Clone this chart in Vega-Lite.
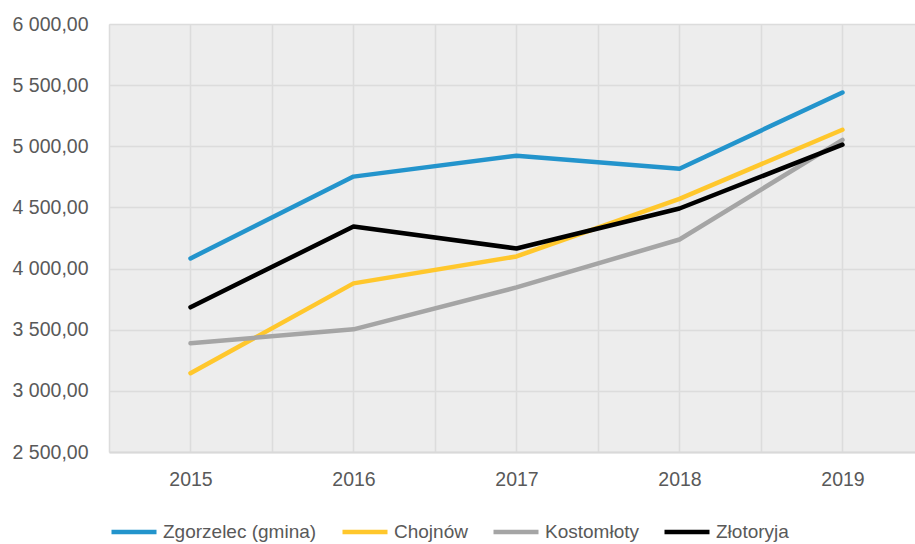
{
  "$schema": "https://vega.github.io/schema/vega-lite/v6.json",
  "width": 806,
  "height": 428,
  "autosize": {"type": "none"},
  "padding": {"left": 109, "top": 24, "right": 0, "bottom": 92},
  "background": "white",
  "config": {
    "font": "Liberation Sans",
    "view": {"fill": "#ededed", "stroke": null},
    "axis": {"labelFont": "Liberation Sans", "labelColor": "#595959", "labelFontSize": 19.5, "gridColor": "#dcdcdc", "gridWidth": 1.5, "ticks": false, "title": null}
  },
  "data": {
    "values": [
      {"rok": 2015, "gmina": "Zgorzelec (gmina)", "wartosc": 4083},
      {"rok": 2016, "gmina": "Zgorzelec (gmina)", "wartosc": 4752},
      {"rok": 2017, "gmina": "Zgorzelec (gmina)", "wartosc": 4923},
      {"rok": 2018, "gmina": "Zgorzelec (gmina)", "wartosc": 4817},
      {"rok": 2019, "gmina": "Zgorzelec (gmina)", "wartosc": 5440},
      {"rok": 2015, "gmina": "Chojnów", "wartosc": 3144},
      {"rok": 2016, "gmina": "Chojnów", "wartosc": 3879},
      {"rok": 2017, "gmina": "Chojnów", "wartosc": 4099},
      {"rok": 2018, "gmina": "Chojnów", "wartosc": 4570},
      {"rok": 2019, "gmina": "Chojnów", "wartosc": 5135},
      {"rok": 2015, "gmina": "Kostomłoty", "wartosc": 3389},
      {"rok": 2016, "gmina": "Kostomłoty", "wartosc": 3503},
      {"rok": 2017, "gmina": "Kostomłoty", "wartosc": 3846},
      {"rok": 2018, "gmina": "Kostomłoty", "wartosc": 4238},
      {"rok": 2019, "gmina": "Kostomłoty", "wartosc": 5053},
      {"rok": 2015, "gmina": "Złotoryja", "wartosc": 3683},
      {"rok": 2016, "gmina": "Złotoryja", "wartosc": 4344},
      {"rok": 2017, "gmina": "Złotoryja", "wartosc": 4164},
      {"rok": 2018, "gmina": "Złotoryja", "wartosc": 4491},
      {"rok": 2019, "gmina": "Złotoryja", "wartosc": 5013}
    ]
  },
  "mark": {"type": "line", "strokeWidth": 4.5, "strokeCap": "round", "strokeJoin": "round"},
  "encoding": {
    "x": {
      "field": "rok", "type": "quantitative",
      "scale": {"domain": [2014.5, 2019.445], "nice": false, "zero": false},
      "axis": {"values": [2014.5, 2015, 2015.5, 2016, 2016.5, 2017, 2017.5, 2018, 2018.5, 2019], "labelExpr": "datum.value % 1 == 0 ? format(datum.value, 'd') : ''", "labelPadding": 18, "domainColor": "#d9d9d9", "domainWidth": 2, "labelFlush": false}
    },
    "y": {
      "field": "wartosc", "type": "quantitative",
      "scale": {"domain": [2500, 6000], "nice": false, "zero": false},
      "axis": {"values": [2500, 3000, 3500, 4000, 4500, 5000, 5500, 6000], "labelExpr": "replace(replace(format(datum.value, ',.2f'), ',', ' '), '.', ',')", "labelPadding": 21, "domain": false}
    },
    "color": {
      "field": "gmina", "type": "nominal",
      "sort": ["Zgorzelec (gmina)", "Chojnów", "Kostomłoty", "Złotoryja"],
      "scale": {"domain": ["Zgorzelec (gmina)", "Chojnów", "Kostomłoty", "Złotoryja"], "range": ["#2394cc", "#ffc72c", "#a5a5a5", "#000000"]},
      "legend": {"orient": "none", "legendX": 0, "legendY": 483, "direction": "horizontal", "title": null, "symbolType": "stroke", "symbolSize": 2025, "symbolStrokeWidth": 4.5, "labelFont": "Liberation Sans", "labelFontSize": 19, "labelColor": "#595959", "columnPadding": 16, "padding": 0, "labelOffset": 4}
    }
  }
}
